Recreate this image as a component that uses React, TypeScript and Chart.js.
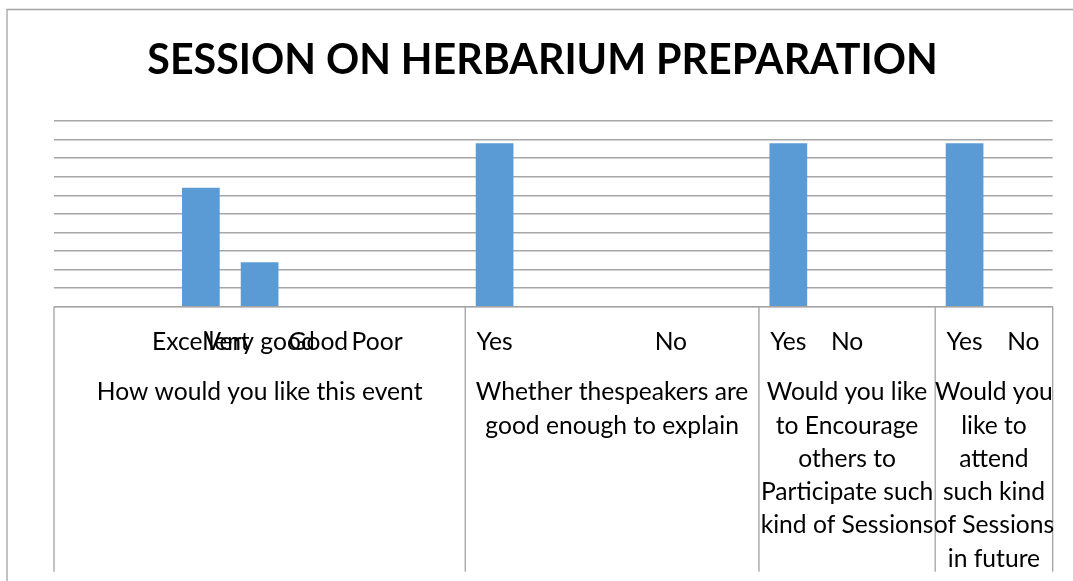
import { useEffect, useRef } from 'react';
import { Chart, registerables } from 'chart.js';

Chart.register(...registerables);

const TITLE = 'SESSION ON HERBARIUM PREPARATION';
const CATEGORIES = ['', '', 'Excellent', 'Very good', 'Good', 'Poor', '', 'Yes', '', '', 'No', '', 'Yes', 'No', '', 'Yes', 'No'];
const VALUES = [null, null, 8, 3, 0, 0, null, 11, null, null, 0, null, 11, 0, null, 11, 0];
const GROUP_STARTS = [0, 7, 12, 15];
const GROUP_ENDS = [7, 12, 15, 17];
const GROUP_LABELS = [
  ['How would you like this event'],
  ['Whether thespeakers are', 'good enough to explain'],
  ['Would you like', 'to Encourage', 'others to', 'Participate such', 'kind of Sessions'],
  ['Would you', 'like to', 'attend', 'such kind', 'of Sessions', 'in future'],
];
const Y_MAX = 12.5;
const Y_STEP = 1.25;

const W = 1073;
const H = 581;
const LINE = '#a3a3a3';
const TEXT_FONT = 'Lato';
const TEXT_SX = 0.985;
const TITLE_SX = 0.98;

function drawText(ctx: CanvasRenderingContext2D, text: string, x: number, y: number, sx: number) {
  ctx.save();
  ctx.translate(x, y);
  ctx.scale(sx, 1);
  ctx.fillText(text, 0, 0);
  ctx.restore();
}

const decorPlugin = {
  id: 'decor',
  afterDraw(chart: any) {
    const ctx: CanvasRenderingContext2D = chart.ctx;
    const area = chart.chartArea;
    const n = CATEGORIES.length;
    const catW = (area.right - area.left) / n;
    const xScale = chart.scales.x;
    ctx.save();

    // outer frame
    ctx.strokeStyle = LINE;
    ctx.lineWidth = 1.3;
    ctx.beginPath();
    ctx.moveTo(7, H + 5);
    ctx.lineTo(7, 9.5);
    ctx.lineTo(W + 5, 9.5);
    ctx.stroke();

    // title
    ctx.fillStyle = '#000';
    ctx.textAlign = 'center';
    ctx.textBaseline = 'alphabetic';
    ctx.font = `bold 42px ${TEXT_FONT}`;
    drawText(ctx, TITLE, (7 + W + 5) / 2, 73.5, TITLE_SX);

    // table lines
    ctx.strokeStyle = LINE;
    ctx.lineWidth = 1.3;
    ctx.beginPath();
    ctx.moveTo(area.left, area.bottom);
    ctx.lineTo(area.right, area.bottom);
    const bounds = [...GROUP_STARTS, n];
    for (const b of bounds) {
      const x = area.left + b * catW;
      ctx.moveTo(x, area.bottom);
      ctx.lineTo(x, area.bottom + 265);
    }
    ctx.stroke();

    // category labels
    ctx.fillStyle = '#000';
    ctx.font = `25px ${TEXT_FONT}`;
    CATEGORIES.forEach((c, i) => {
      if (!c) return;
      drawText(ctx, c, xScale.getPixelForValue(i), area.bottom + 43.5, TEXT_SX);
    });

    // group labels
    GROUP_LABELS.forEach((lines, g) => {
      const x0 = area.left + GROUP_STARTS[g] * catW;
      const x1 = area.left + GROUP_ENDS[g] * catW;
      const cx = (x0 + x1) / 2;
      lines.forEach((ln, k) => {
        drawText(ctx, ln, cx, area.bottom + 93.5 + k * 33.3, TEXT_SX);
      });
    });
    ctx.restore();
  },
};

export default function App() {
  const ref = useRef<HTMLCanvasElement>(null);
  useEffect(() => {
    if (!ref.current) return;
    const chart = new Chart(ref.current, {
      type: 'bar',
      data: {
        labels: CATEGORIES,
        datasets: [
          {
            data: VALUES as any,
            backgroundColor: '#5b9bd5',
            borderWidth: 0,
            categoryPercentage: 1,
            barPercentage: 0.642,
          },
        ],
      },
      options: {
        responsive: false,
        animation: false,
        layout: { padding: { left: 54, right: 20.3, top: 121, bottom: 274.3 } },
        plugins: { legend: { display: false }, tooltip: { enabled: false }, title: { display: false } },
        scales: {
          x: { display: false },
          y: {
            min: 0,
            max: Y_MAX,
            ticks: { display: false, stepSize: Y_STEP },
            border: { display: false },
            grid: { color: '#a6a6a6', lineWidth: 1.4, drawTicks: false },
          },
        },
      },
      plugins: [decorPlugin],
    });
    return () => chart.destroy();
  }, []);
  return (
    <div style={{ position: 'absolute', left: 0, top: 0, width: W, height: H, overflow: 'hidden', background: '#fff' }}>
      <canvas ref={ref} width={W} height={H} style={{ width: W, height: H, display: 'block' }} />
    </div>
  );
}
